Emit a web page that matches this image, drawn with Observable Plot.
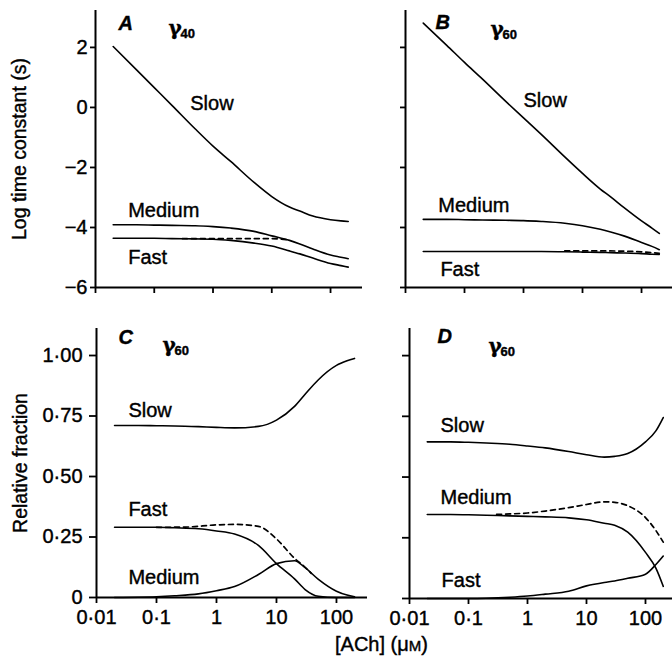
<!DOCTYPE html>
<html>
<head>
<meta charset="utf-8">
<script src="https://cdn.jsdelivr.net/npm/d3@7"></script>
<script src="https://cdn.jsdelivr.net/npm/@observablehq/plot@0.6"></script>
<style>
  html, body { margin: 0; padding: 0; background: #fff; }
  #chart { position: relative; width: 672px; height: 658px; background: #fff; overflow: hidden; font-family: "Liberation Sans", Arial, sans-serif; color: #000; }
  .panel { position: absolute; }
  .panel svg { overflow: visible; }
  .panel svg text { stroke: #000; stroke-width: 0.4px; }
  g[aria-label*="axis"] path, g[aria-label*="axis"] line { stroke-width: 1.8px; }
  #xlabel { position: absolute; left: 335px; top: 633px; font-size: 20px; white-space: nowrap; -webkit-text-stroke: 0.4px #000; }
  #xlabel .sc { font-size: 15px; }
</style>
</head>
<body>
<div id="chart">
  <div id="xlabel">[ACh] (μ<span class="sc">M</span>)</div>
</div>
<script>
// ---------- data ----------
const conc = [0.02, 0.05, 0.1, 0.2, 0.5, 1, 2, 5, 10, 20, 30, 50, 100, 150, 200];

// Panel A (gamma 40): log time constants
const slowA   = [2.03, 1.25, 0.66, 0.07, -0.72, -1.29, -1.8, -2.5, -2.97, -3.32, -3.45, -3.62, -3.74, -3.78, -3.8];
const mediumA = [-3.91, -3.91, -3.92, -3.93, -3.94, -3.97, -4.02, -4.13, -4.28, -4.43, -4.55, -4.72, -4.92, -4.99, -5.04];
const fastA   = [-4.36, -4.36, -4.36, -4.37, -4.38, -4.39, -4.43, -4.52, -4.62, -4.78, -4.88, -5.02, -5.2, -5.27, -5.32];
const dashA_x = [0.3, 1, 3, 10, 20];
const dashA_y = [-4.37, -4.37, -4.37, -4.37, -4.42];

// Panel B (gamma 60): log time constants
const slowB   = [2.81, 2.07, 1.5, 0.95, 0.2, -0.35, -0.9, -1.65, -2.2, -2.72, -2.98, -3.33, -3.78, -4.02, -4.2];
const mediumB = [-3.73, -3.73, -3.74, -3.75, -3.76, -3.77, -3.8, -3.86, -3.94, -4.06, -4.15, -4.28, -4.5, -4.63, -4.74];
const fastB   = [-4.8, -4.8, -4.8, -4.8, -4.8, -4.8, -4.8, -4.81, -4.82, -4.83, -4.84, -4.85, -4.87, -4.89, -4.9];
const dashB_x = [5, 10, 20, 50, 100, 200];
const dashB_y = [-4.78, -4.78, -4.78, -4.79, -4.81, -4.86];

// Panel C (gamma 60): relative fractions
const slowC   = [0.711, 0.711, 0.71, 0.709, 0.706, 0.703, 0.701, 0.707, 0.733, 0.79, 0.84, 0.9, 0.959, 0.978, 0.988];
const fastC   = [0.29, 0.29, 0.29, 0.288, 0.284, 0.275, 0.262, 0.215, 0.14, 0.077, 0.033, 0.005, 0, 0, 0];
const mediumC = [0, 0.001, 0.003, 0.007, 0.015, 0.028, 0.045, 0.095, 0.14, 0.152, 0.123, 0.075, 0.026, 0.01, 0.003];
const dashC_x = [0.1, 0.3, 1, 2, 5, 10, 20, 30, 38];
const dashC_y = [0.29, 0.291, 0.3, 0.302, 0.294, 0.242, 0.162, 0.125, 0.1];

// Panel D (gamma 60): relative fractions
const slowD   = [0.645, 0.645, 0.643, 0.64, 0.635, 0.628, 0.62, 0.605, 0.592, 0.582, 0.585, 0.597, 0.645, 0.69, 0.745];
const mediumD = [0.346, 0.346, 0.345, 0.343, 0.34, 0.338, 0.336, 0.332, 0.324, 0.31, 0.302, 0.273, 0.19, 0.125, 0.05];
const fastD   = [0, 0, 0, 0.001, 0.005, 0.01, 0.018, 0.03, 0.052, 0.066, 0.072, 0.083, 0.1, 0.14, 0.175];
const dashD_x = [0.3, 0.5, 1, 2, 5, 10, 20, 30, 50, 100, 150, 200];
const dashD_y = [0.346, 0.348, 0.352, 0.36, 0.374, 0.387, 0.398, 0.396, 0.382, 0.333, 0.28, 0.232];

// tick values and labels
const xTicks = [0.01, 0.1, 1, 10, 100];
const xTickLabels = ["0·01", "0·1", "1", "10", "100"];
const yTicksTop = [-6, -4, -2, 0, 2];
const yTicksBottom = [0, 0.25, 0.5, 0.75, 1];
const yTickLabelsBottom = ["0", "0·25", "0·50", "0·75", "1·00"];

// curve labels
const curveNames = ["Slow", "Medium", "Fast"];
const labelXA = [0.41, 0.036, 0.036],  labelYA = [0.13, -3.43, -5.0];
const labelXB = [1.0, 0.036, 0.039],   labelYB = [0.23, -3.27, -5.4];
const labelXC = [0.034, 0.034, 0.034], labelYC = [0.773, 0.083, 0.364];
const labelXD = [0.0335, 0.0335, 0.035], labelYD = [0.713, 0.415, 0.072];

const panelLetters = ["A", "B", "C", "D"];
const gammaSubs = ["40", "60", "60", "60"];

// ---------- drawing ----------
const FONT = "Liberation Sans, Arial, sans-serif";

function toRows(xs, ys) { return xs.map((x, i) => ({x, y: ys[i]})); }

function panel(o) {
  const lines = [];
  for (const s of o.solid) {
    lines.push(Plot.line(toRows(conc, s), {x: "x", y: "y", curve: "monotone-x", stroke: "#000", strokeWidth: 1.6}));
  }
  lines.push(Plot.line(toRows(o.dashX, o.dashY), {x: "x", y: "y", curve: "monotone-x", stroke: "#000", strokeWidth: 1.7, strokeDasharray: "5,4"}));
  const labelRows = curveNames.map((t, i) => ({t, x: o.labelX[i], y: o.labelY[i]}));
  const marks = [
    Plot.ruleX([o.xDomain[0]], {stroke: "#000", strokeWidth: 2}),
    Plot.ruleY([o.yDomain[0]], {stroke: "#000", strokeWidth: 2}),
    ...lines,
    Plot.text(labelRows, {x: "x", y: "y", text: "t", textAnchor: "start", fontSize: 20, fill: "#000"}),
    Plot.text([o.letter], {frameAnchor: "top-left", dx: o.letterD[0], dy: o.letterD[1], textAnchor: "start", fontSize: 20, fontStyle: "italic", fontWeight: "bold", fill: "#000"}),
    Plot.text(["γ"], {frameAnchor: "top-left", dx: o.gammaD[0], dy: o.gammaD[1], textAnchor: "start", fontSize: 20, fontFamily: "DejaVu Serif", fontWeight: "bold", fill: "#000"}),
    Plot.text([o.sub], {frameAnchor: "top-left", dx: o.gammaD[0] + 12, dy: o.gammaD[1] + 8, textAnchor: "start", fontSize: 13, fontWeight: "bold", fill: "#000"})
  ];
  if (o.ytitle) {
    marks.push(Plot.text([o.ytitle], {frameAnchor: "left", dx: o.ytitleDx, rotate: -90, textAnchor: "middle", fontSize: 19.5, fill: "#000"}));
  }
  const svg = Plot.plot({
    width: o.width, height: o.height,
    marginLeft: o.ml, marginRight: o.mr, marginTop: o.mt, marginBottom: o.mb,
    style: {fontFamily: FONT, fontSize: "20px", background: "transparent", color: "#000", overflow: "visible"},
    x: {type: "log", domain: o.xDomain, ticks: xTicks, tickFormat: o.xFormat, tickSize: 6, tickPadding: 6, label: null},
    y: {domain: o.yDomain, ticks: o.yTicks, tickFormat: o.yFormat, tickSize: o.ytickSize, tickPadding: o.ytickPad, label: null},
    marks
  });
  const div = document.createElement("div");
  div.className = "panel";
  div.style.left = o.left + "px";
  div.style.top = o.top + "px";
  div.appendChild(svg);
  document.getElementById("chart").appendChild(div);
}

const noLabel = () => "";
const xLab = d => xTickLabels[xTicks.indexOf(d)] ?? "";
const yLabBottom = d => yTickLabelsBottom[yTicksBottom.indexOf(d)] ?? "";
const yLabTop = d => d < 0 ? "−" + Math.abs(d) : String(d);

panel({left: 0, top: 0, width: 372, height: 300, ml: 95, mr: 10, mt: 10, mb: 13,
  xDomain: [0.01, 350], yDomain: [-6, 3.23], yTicks: yTicksTop, yFormat: yLabTop, xFormat: noLabel,
  ytickSize: 5, ytickPad: 3,
  solid: [slowA, mediumA, fastA], dashX: dashA_x, dashY: dashA_y,
  labelX: labelXA, labelY: labelYA, letter: panelLetters[0], letterD: [23, 5], gammaD: [73, 10], sub: gammaSubs[0],
  ytitle: "Log time constant (s)", ytitleDx: -76});

panel({left: 330, top: 0, width: 342, height: 300, ml: 75, mr: 0, mt: 10, mb: 13,
  xDomain: [0.01, 335], yDomain: [-6, 3.23], yTicks: yTicksTop, yFormat: noLabel, xFormat: noLabel,
  ytickSize: 5, ytickPad: 3,
  solid: [slowB, mediumB, fastB], dashX: dashB_x, dashY: dashB_y,
  labelX: labelXB, labelY: labelYB, letter: panelLetters[1], letterD: [30, 4], gammaD: [85, 11], sub: gammaSubs[1]});

panel({left: 0, top: 300, width: 372, height: 358, ml: 96, mr: 5, mt: 28, mb: 61,
  xDomain: [0.01, 329], yDomain: [0, 1.1116], yTicks: yTicksBottom, yFormat: yLabBottom, xFormat: xLab,
  ytickSize: 7, ytickPad: 7,
  solid: [slowC, fastC, mediumC], dashX: dashC_x, dashY: dashC_y,
  labelX: labelXC, labelY: labelYC, letter: panelLetters[2], letterD: [22, 1], gammaD: [66, 9], sub: gammaSubs[2],
  ytitle: "Relative fraction", ytitleDx: -76});

panel({left: 330, top: 300, width: 342, height: 358, ml: 79, mr: 0, mt: 28, mb: 60,
  xDomain: [0.01, 287], yDomain: [0, 1.1116], yTicks: yTicksBottom, yFormat: noLabel, xFormat: xLab,
  ytickSize: 7, ytickPad: 7,
  solid: [slowD, mediumD, fastD], dashX: dashD_x, dashY: dashD_y,
  labelX: labelXD, labelY: labelYD, letter: panelLetters[3], letterD: [28, 0], gammaD: [79, 10], sub: gammaSubs[3]});
</script>
</body>
</html>
